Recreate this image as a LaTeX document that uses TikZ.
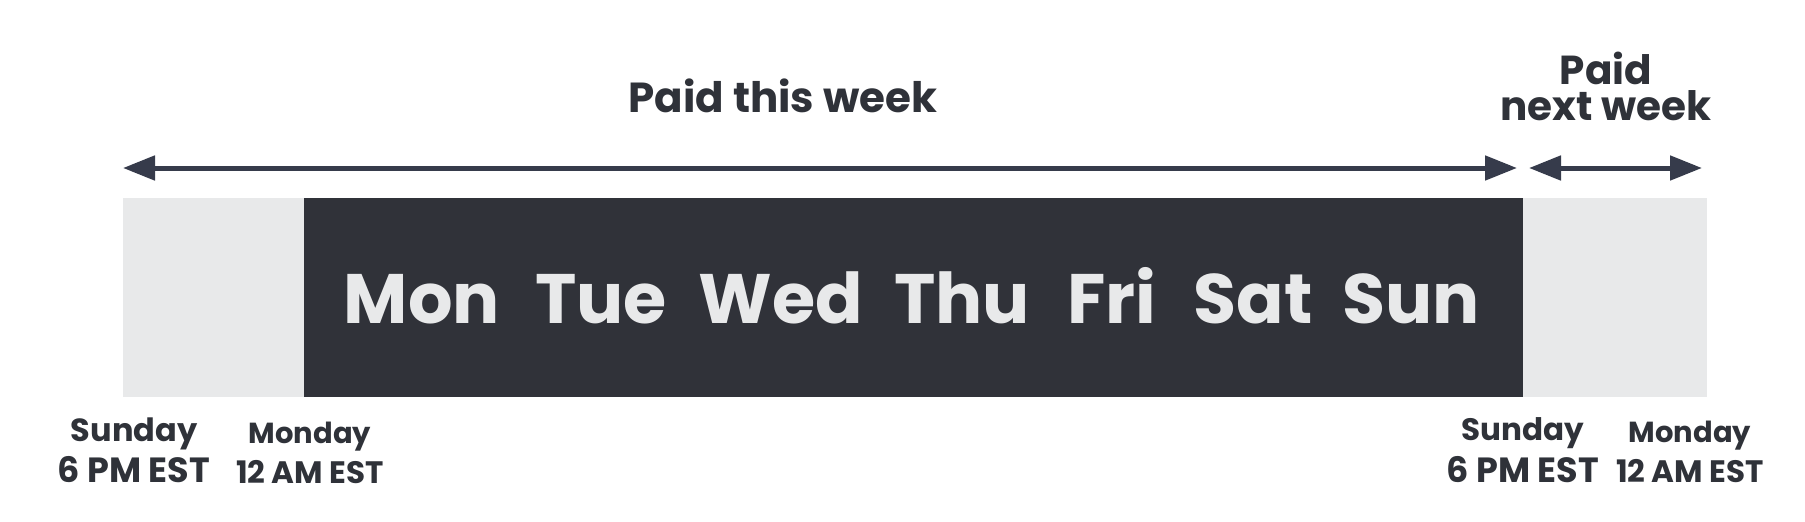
\documentclass[tikz,border=0pt]{standalone}
\usepackage{fontspec}
\setmainfont{Poppins}
\usetikzlibrary{arrows.meta}
\definecolor{darkbox}{HTML}{303239}
\definecolor{lightbox}{HTML}{E8E9EA}
\definecolor{inktext}{HTML}{2F3239}
\definecolor{arrowc}{HTML}{363B4B}
\tikzset{
  boxbase/.style={anchor=north west, inner sep=0pt, outer sep=0pt, minimum height=199pt},
  lightrect/.style={boxbase, fill=lightbox},
  darkrect/.style={boxbase, fill=darkbox},
  daylabel/.style={anchor=base, inner sep=0pt, text=lightbox, font=\bfseries\fontsize{70}{70}\selectfont},
  toplabel/.style={anchor=base, inner sep=0pt, text=inktext, font=\bfseries\fontsize{42}{42}\selectfont},
  biglabel/.style={anchor=base, inner sep=0pt, text=inktext, font=\bfseries\fontsize{35}{35}\selectfont},
  smalllabel/.style={anchor=base, inner sep=0pt, text=inktext, font=\bfseries\fontsize{31}{31}\selectfont},
  span/.style={line width=5pt, draw=arrowc, {Triangle[length=32pt,width=24pt]}-{Triangle[length=32pt,width=24pt]}}
}
\begin{document}
\begin{tikzpicture}[x=1pt,y=-1pt]
\useasboundingbox (0,0) rectangle (1805,522);
\fill[white] (0,0) rectangle (1805,522);
% bars
\node[lightrect, minimum width=181pt] (pre) at (123,198) {};
\node[darkrect, minimum width=1220pt] (week) at (304,198) {};
\node[lightrect, minimum width=184pt] (post) at (1523,198) {};
% day names
\node[daylabel] (mon) at (422,323) {Mon};
\node[daylabel] (tue) at (601,323) {Tue};
\node[daylabel] (wed) at (781,323) {Wed};
\node[daylabel] (thu) at (962,323) {Thu};
\node[daylabel] (fri) at (1112,323) {Fri};
\node[daylabel] (sat) at (1253,323) {Sat};
\node[daylabel] (sun) at (1411,323) {Sun};
% top labels
\node[toplabel] (thisweek) at (783,112) {Paid this week};
\node[toplabel, align=center, font=\bfseries\fontsize{40.5}{36}\selectfont] (nextweek) at (1606,120) {Paid\\next week};
% arrows
\coordinate (a1l) at (123,168);
\coordinate (a1r) at (1517,168);
\coordinate (a2l) at (1529,168);
\coordinate (a2r) at (1702,168);
\draw[span] (a1l) -- (a1r);
\draw[span] (a2l) -- (a2r);
% bottom labels
\node[biglabel, font=\bfseries\fontsize{32}{32}\selectfont] (sunA1) at (134,441) {Sunday};
\node[biglabel] (sunA2) at (134,482) {6 PM EST};
\node[smalllabel, font=\bfseries\fontsize{29}{29}\selectfont] (monA1) at (310,443) {Monday};
\node[smalllabel] (monA2) at (310,483) {12 AM EST};
\node[smalllabel, font=\bfseries\fontsize{31}{31}\selectfont] (sunB1) at (1523,440) {Sunday};
\node[biglabel] (sunB2) at (1523,482) {6 PM EST};
\node[smalllabel, font=\bfseries\fontsize{29}{29}\selectfont] (monB1) at (1690,442) {Monday};
\node[smalllabel] (monB2) at (1690,482) {12 AM EST};
\end{tikzpicture}
\end{document}
